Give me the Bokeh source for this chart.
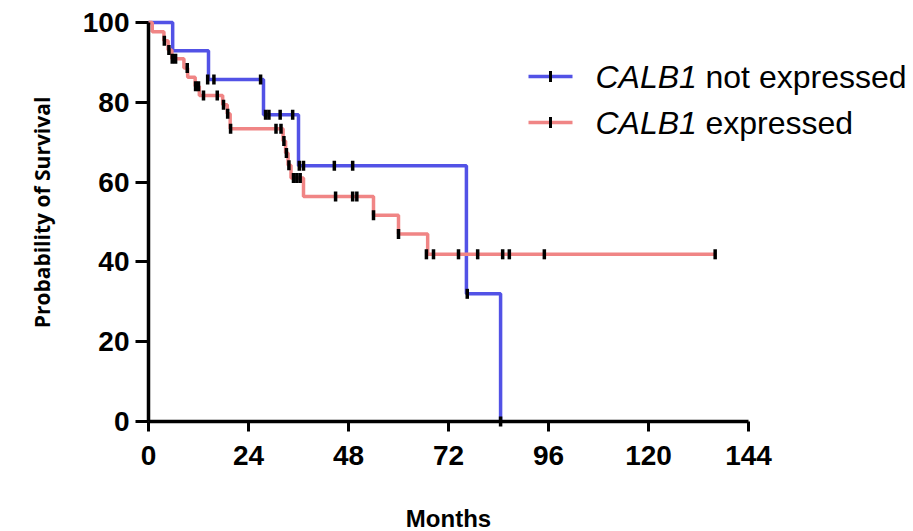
import numpy as np
from bokeh.plotting import figure
from bokeh.models import Range1d, FixedTicker, Label, BoxAnnotation
from bokeh.embed import file_html
from bokeh.resources import INLINE

# ---- data ----
blue_t = [0, 5.8, 14.4, 27.6, 36.0, 76.3, 84.5]
blue_s = [100, 92.9, 85.7, 76.9, 64.1, 32.0, 0.0]
blue_cens_t = [14.2, 15.7, 26.9, 28.1, 28.9, 31.6, 34.6, 36.2, 37.2, 44.6, 49.0, 76.5, 84.5]
blue_cens_s = [85.7, 85.7, 85.7, 76.9, 76.9, 76.9, 76.9, 64.1, 64.1, 64.1, 64.1, 32.0, 0.0]

red_t = [0, 0.9, 3.7, 4.7, 5.6, 8.5, 9.4, 11.2, 12.2, 17.8, 18.9, 19.6,
         32.3, 32.9, 33.5, 34.2, 37.2, 54.0, 60.0, 67.0, 136.0]
red_s = [100, 97.7, 95.4, 93.1, 90.9, 88.6, 86.3, 84.0, 81.7, 79.4, 77.1, 73.4,
         70.3, 67.3, 64.2, 61.0, 56.4, 51.7, 47.0, 41.9, 41.9]
red_cens_t = [3.8, 4.9, 5.7, 6.5, 9.3, 11.3, 12.0, 13.2, 16.5, 18.0, 19.0, 19.7,
              30.6, 31.8, 32.5, 33.1, 33.7, 34.8, 35.6, 36.4, 44.9, 49.0, 50.0,
              54.0, 60.0, 66.7, 68.4, 74.4, 79.0, 85.0, 86.6, 95.0, 136.0]
red_cens_s = [95.4, 93.1, 90.9, 90.9, 88.6, 84.0, 84.0, 81.7, 81.7, 79.4, 77.1, 73.4,
              73.4, 73.4, 70.3, 67.3, 64.2, 61.0, 61.0, 61.0, 56.4, 56.4, 56.4,
              51.7, 47.0, 41.9, 41.9, 41.9, 41.9, 41.9, 41.9, 41.9, 41.9]

x_ticks = [0, 24, 48, 72, 96, 120, 144]
y_ticks = [0, 20, 40, 60, 80, 100]
gene = "CALB1"
series_labels = ["not expressed", "expressed"]
x_title = "Months"
y_title = "Probability of Survival"

BLUE = "#5252E6"
RED = "#F08585"
NARROW = "'Liberation Sans Narrow', 'Liberation Sans', sans-serif"

# pixel scale: 600 px for 144 months, 399 px for 100 %; origin at page (148, 421)
PX_X = 600 / 144.0
PX_Y = 399 / 100.0
W, H = 908, 531
OX, OY = 148, 421

def mx(px):  # page x -> months
    return (px - OX) / PX_X

def my(py):  # page y -> percent
    return (OY - py) / PX_Y

p = figure(frame_width=W, frame_height=H, output_backend="svg", toolbar_location=None,
           x_range=Range1d(mx(0), mx(W)), y_range=Range1d(my(H), my(0)),
           min_border=0)
p.outline_line_color = None
p.xgrid.visible = False
p.ygrid.visible = False
p.background_fill_color = "white"

p.step(blue_t, blue_s, mode="after", line_color=BLUE, line_width=3.5)
p.step(red_t, red_s, mode="after", line_color=RED, line_width=3.5)
p.scatter(blue_cens_t, blue_cens_s, marker="dash", size=10, angle=np.pi / 2,
          line_color="black", line_width=3.5)
p.scatter(red_cens_t, red_cens_s, marker="dash", size=10, angle=np.pi / 2,
          line_color="black", line_width=3.5)

for ax in (p.xaxis[0], p.yaxis[0]):
    ax.fixed_location = 0
    ax.axis_line_width = 3.5
    ax.axis_line_color = "black"
    ax.major_tick_line_width = 3
    ax.major_tick_line_color = "black"
    ax.major_tick_in = 0
    ax.minor_tick_line_color = None
    ax.major_label_text_font = NARROW
    ax.major_label_text_font_style = "bold"
    ax.major_label_text_font_size = "28px"
    ax.major_label_text_color = "black"

p.xaxis.ticker = FixedTicker(ticks=x_ticks)
p.yaxis.ticker = FixedTicker(ticks=y_ticks)
p.xaxis.bounds = (0, 144)
p.yaxis.bounds = (0, 100)
p.xaxis.major_tick_out = 10
p.yaxis.major_tick_out = 13
p.xaxis.major_label_standoff = 14
p.yaxis.major_label_standoff = 6

# axis titles
p.add_layout(Label(x=72, y=my(518), text=x_title, text_font=NARROW,
                   text_font_style="bold", text_font_size="24px", text_color="black",
                   text_align="center", text_baseline="middle"))
p.add_layout(Label(x=mx(41), y=my(212), text=y_title, text_font="Open Sans",
                   text_font_style="bold", text_font_size="21px", text_color="black",
                   text_align="center", text_baseline="middle", angle=np.pi / 2))

# ---- legend (drawn by hand so that the gene name can be italic) ----
leg_x0, leg_x1, leg_xc = mx(528), mx(572), mx(550)
text_x, rest_x = mx(595), mx(705)
rows = [my(76), my(122)]
half_line = 1.75 / PX_Y
half_tick_w = 1.5 / PX_X
half_tick_h = 5.5 / PX_Y

for yy, col, lab in zip(rows, [BLUE, RED], series_labels):
    p.add_layout(BoxAnnotation(left=leg_x0, right=leg_x1, bottom=yy - half_line,
                               top=yy + half_line, fill_color=col, fill_alpha=1,
                               line_color=None))
    p.add_layout(BoxAnnotation(left=leg_xc - half_tick_w, right=leg_xc + half_tick_w,
                               bottom=yy - half_tick_h, top=yy + half_tick_h,
                               fill_color="black", fill_alpha=1, line_color=None))
    p.add_layout(Label(x=text_x, y=yy, text=gene, text_font="Liberation Sans",
                       text_font_style="italic", text_font_size="32px",
                       text_baseline="middle", text_align="left", text_color="black"))
    p.add_layout(Label(x=rest_x, y=yy, text=lab, text_font="Liberation Sans",
                       text_font_size="32px",
                       text_baseline="middle", text_align="left", text_color="black"))

open("out.html", "w").write(file_html(p, INLINE))
